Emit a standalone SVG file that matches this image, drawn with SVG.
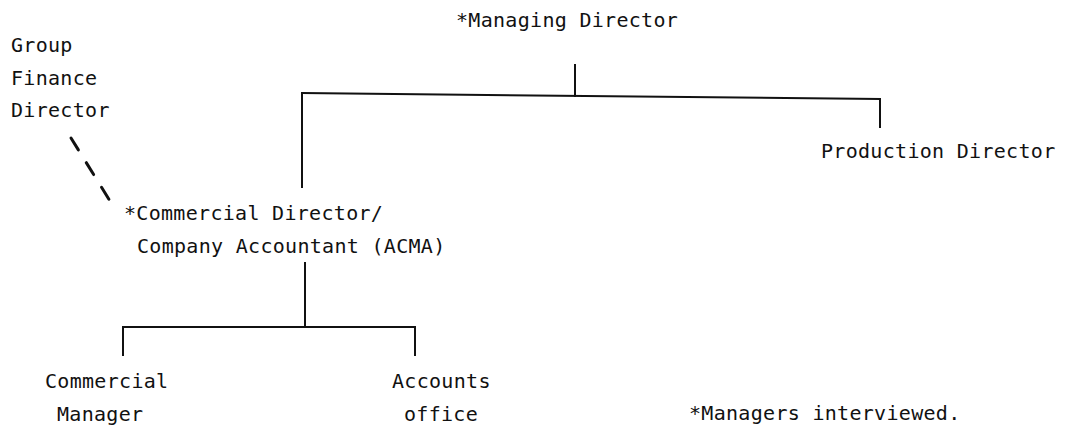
<svg xmlns="http://www.w3.org/2000/svg" width="1074" height="432" viewBox="0 0 1074 432">
  <style>
    text { font-family: "DejaVu Sans Mono", "Liberation Mono", monospace; font-size: 20px; letter-spacing: 0.3px; fill: #111; }
    .ln { stroke: #111; stroke-width: 2; fill: none; stroke-linecap: square; }
    .dash { stroke: #111; stroke-width: 3; fill: none; stroke-linecap: round; stroke-dasharray: 14 15; }
  </style>
  <rect width="1074" height="432" fill="#fff"/>

  <g id="connectors">
    <!-- Managing Director down to the main bar -->
    <path class="ln" d="M575 65 V96"/>
    <path class="ln" d="M302 93 L880 99"/>
    <path class="ln" d="M302 93 V187"/>
    <path class="ln" d="M880 99 V127"/>
    <!-- Commercial Director down to its two reports -->
    <path class="ln" d="M305 263 V325"/>
    <path class="ln" d="M123 327 H415"/>
    <path class="ln" d="M123 327 V355"/>
    <path class="ln" d="M415 327 V355"/>
    <!-- dotted-line reporting from Group Finance Director -->
    <path class="dash" d="M71 138 L110 201"/>
  </g>

  <g id="managing-director">
    <text x="456" y="27">*Managing Director</text>
  </g>
  <g id="group-finance-director">
    <text x="11" y="52">Group</text>
    <text x="11" y="85">Finance</text>
    <text x="11" y="117">Director</text>
  </g>
  <g id="production-director">
    <text x="821" y="158">Production Director</text>
  </g>
  <g id="commercial-director">
    <text x="124" y="220">*Commercial Director/</text>
    <text x="137" y="253">Company Accountant (ACMA)</text>
  </g>
  <g id="commercial-manager">
    <text x="45" y="388">Commercial</text>
    <text x="57" y="421">Manager</text>
  </g>
  <g id="accounts-office">
    <text x="392" y="388">Accounts</text>
    <text x="404" y="421">office</text>
  </g>
  <g id="note">
    <text x="689" y="420">*Managers interviewed.</text>
  </g>
</svg>
